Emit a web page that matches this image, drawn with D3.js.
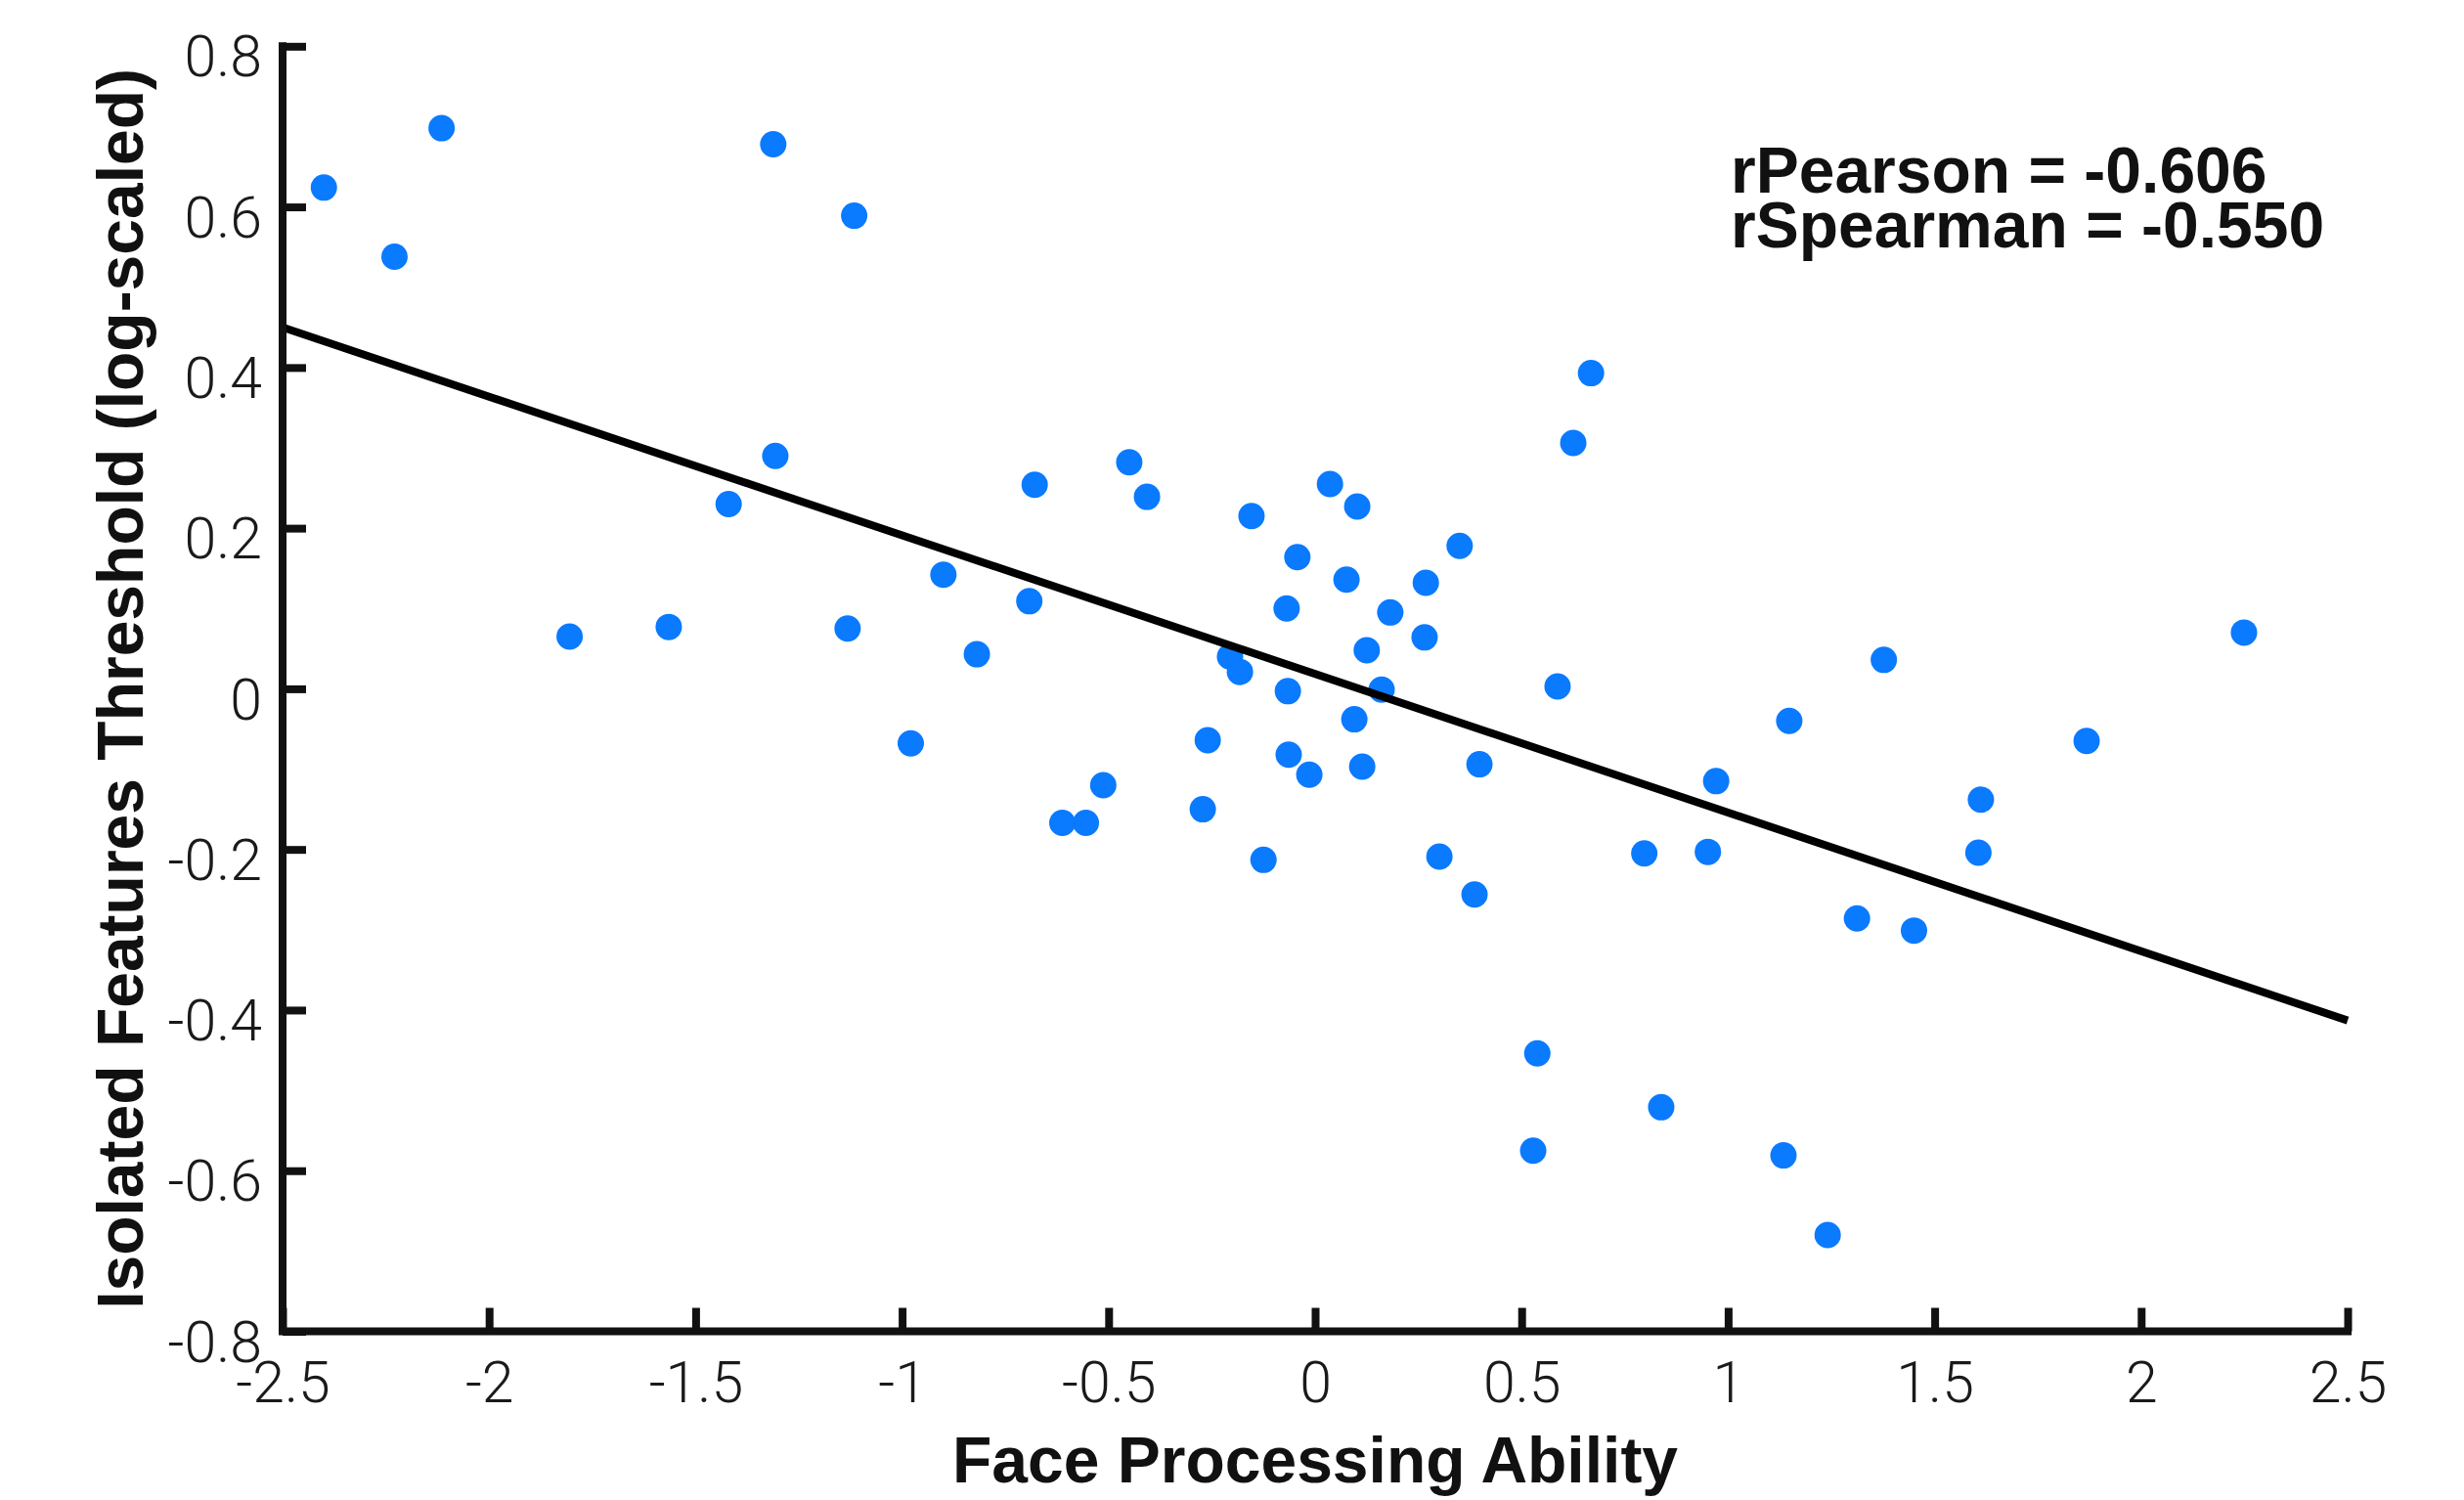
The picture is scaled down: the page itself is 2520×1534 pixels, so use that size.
<!DOCTYPE html>
<html>
<head>
<meta charset="utf-8">
<script src="https://cdn.jsdelivr.net/npm/d3@7"></script>
<style>
	html, body { margin: 0; padding: 0; background: #fff; }
	.tick text { font-family: Roboto, "Liberation Sans", sans-serif; font-weight: 300; fill: #1a1a1a; }
	.title { font-family: "Liberation Sans", Arial, sans-serif; font-weight: bold; fill: #111; }
</style>
</head>
<body>
<div id="chart"></div>
<script>
// face processing ability (x) vs isolated features threshold (y), one pair per subject
const faceAbility = [
	-2.400, -2.229, -2.115, -1.312, -1.116, -1.307, -1.420, -1.805, -1.565, -1.132,
	-0.900, -0.819, -0.979, -0.679, -0.692, -0.450, -0.407, -0.612, -0.555, -0.513,
	-0.272, -0.260, -0.206, -0.182, -0.154, -0.125, -0.069, -0.043, -0.066, -0.064,
	-0.014, 0.036, 0.102, 0.076, 0.125, 0.095, 0.114, 0.161, 0.182, 0.268,
	0.265, 0.350, 0.301, 0.398, 0.386, 0.625, 0.668, 0.587, 0.538, 0.528,
	0.797, 0.838, 0.951, 0.971, 1.148, 1.134, 1.241, 1.312, 1.377, 1.450,
	1.606, 1.612, 1.868, 2.249
];
const featureThreshold = [
	0.624, 0.538, 0.698, 0.678, 0.589, 0.290, 0.230, 0.065, 0.077, 0.075,
	0.142, 0.043, -0.068, 0.254, 0.109, 0.282, 0.239, -0.167, -0.167, -0.120,
	-0.150, -0.064, 0.040, 0.021, 0.215, -0.213, 0.100, 0.164, -0.003, -0.082,
	-0.107, 0.255, 0.227, 0.136, 0.048, -0.038, -0.097, -0.001, 0.095, 0.132,
	0.064, 0.178, -0.209, -0.094, -0.256, 0.306, 0.393, 0.003, -0.454, -0.575,
	-0.205, -0.521, -0.203, -0.115, -0.040, -0.581, -0.680, -0.286, 0.036, -0.301,
	-0.204, -0.138, -0.065, 0.070
];

// least squares line as drawn, at the two ends of the x range
const fitX = [-2.5, 2.5];
const fitY = [0.450, -0.413];

const xTicks = [-2.5, -2, -1.5, -1, -0.5, 0, 0.5, 1, 1.5, 2, 2.5];
const yTicks = [-0.8, -0.6, -0.4, -0.2, 0, 0.2, 0.4, 0.6, 0.8];

const statLines = ["rPearson = -0.606", "rSpearman = -0.550"];

const width = 2520;
const height = 1534;
const plot = {left: 289, right: 2401, top: 47.3, bottom: 1361.5};

const svg = d3.select("#chart")
	.append("svg")
	.attr("width", width)
	.attr("height", height);

const x = d3.scaleLinear().domain([-2.5, 2.5]).range([plot.left, plot.right]);
const y = d3.scaleLinear().domain([-0.8, 0.8]).range([plot.bottom, plot.top]);

const points = faceAbility.map((v, i) => ({x: v, y: featureThreshold[i]}));

svg.append("g")
	.selectAll("circle")
	.data(points).enter()
	.append("circle")
	.attr("cx", d => x(d.x))
	.attr("cy", d => y(d.y))
	.attr("r", 13.5)
	.attr("fill", "#0a7aff");

// regression line sits on top of the dots
svg.append("line")
	.attr("x1", x(fitX[0]))
	.attr("y1", y(fitY[0]))
	.attr("x2", x(fitX[1]))
	.attr("y2", y(fitY[1]))
	.attr("stroke", "#000")
	.attr("stroke-width", 8);

const fmt = d => String(d);

const xAxis = svg.append("g")
	.attr("transform", `translate(0,${plot.bottom})`)
	.call(d3.axisBottom(x).tickValues(xTicks).tickFormat(fmt).tickSizeInner(-24).tickSizeOuter(0).tickPadding(31));

const yAxis = svg.append("g")
	.attr("transform", `translate(${plot.left},0)`)
	.call(d3.axisLeft(y).tickValues(yTicks).tickFormat(fmt).tickSizeInner(-24).tickSizeOuter(0).tickPadding(21));

for (let axis of [xAxis, yAxis]) {
	axis.select(".domain").remove();
	axis.selectAll(".tick line").attr("stroke", "#111").attr("stroke-width", 8);
	axis.selectAll(".tick text").attr("font-size", 59);
}
yAxis.selectAll(".tick text").attr("dy", "0.52em");

// only left and bottom spines
svg.append("path")
	.attr("d", `M${plot.left},${plot.top}V${plot.bottom}H${plot.right}`)
	.attr("fill", "none")
	.attr("stroke", "#111")
	.attr("stroke-width", 8)
	.attr("stroke-linecap", "square");

svg.append("text")
	.attr("class", "title")
	.attr("x", (plot.left + plot.right) / 2)
	.attr("y", 1516)
	.attr("text-anchor", "middle")
	.attr("font-size", 66)
	.text("Face Processing Ability");

svg.append("text")
	.attr("class", "title")
	.attr("transform", `translate(146,${(plot.top + plot.bottom) / 2}) rotate(-90)`)
	.attr("text-anchor", "middle")
	.attr("font-size", 66)
	.text("Isolated Features Threshold (log-scaled)");

svg.append("g")
	.selectAll("text")
	.data(statLines).enter()
	.append("text")
	.attr("class", "title")
	.attr("x", 1770)
	.attr("y", (d, i) => 197 + i * 56)
	.attr("font-size", 66)
	.text(d => d);
</script>
</body>
</html>
